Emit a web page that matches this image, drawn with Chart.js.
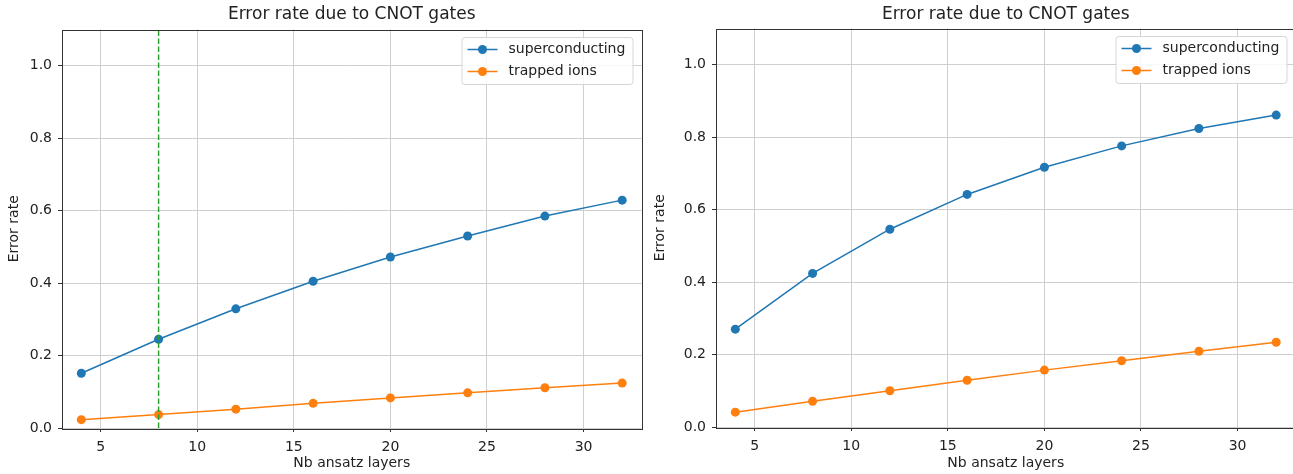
<!DOCTYPE html>
<html>
<head>
<meta charset="utf-8">
<script src="https://cdn.jsdelivr.net/npm/chart.js@4/dist/chart.umd.min.js"></script>
<style>
html, body { margin: 0; padding: 0; background: #fff; overflow: hidden; width: 1293px; height: 474px; }
canvas { position: absolute; top: 0; }
</style>
</head>
<body>
<canvas id="left" width="646" height="474" style="left:0"></canvas>
<canvas id="right" width="654" height="474" style="left:646px"></canvas>
<script>
// Données
const layers = [4, 8, 12, 16, 20, 24, 28, 32];
const superLeft = [0.151, 0.245, 0.329, 0.405, 0.472, 0.530, 0.585, 0.629];
const ionsLeft = [0.023, 0.037, 0.052, 0.068, 0.083, 0.097, 0.111, 0.124];
const superRight = [0.270, 0.424, 0.546, 0.642, 0.717, 0.776, 0.824, 0.861];
const ionsRight = [0.041, 0.071, 0.100, 0.129, 0.157, 0.183, 0.209, 0.234];
const chosenLayers = 8;
const xTicks = [5, 10, 15, 20, 25, 30];
const yTicks = [0, 0.2, 0.4, 0.6, 0.8, 1.0];
const seriesNames = ["superconducting", "trapped ions"];
const chartTitle = "Error rate due to CNOT gates";

const blue = "#1f77b4";
const orange = "#ff7f0e";
const green = "#2ca02c";
const FONT = '"DejaVu Sans", sans-serif';

// Cadre, titre et légende façon matplotlib
const decor = {
    id: "decor",
    afterDraw(chart) {
        const { ctx, chartArea: a } = chart;
        ctx.save();
        ctx.strokeStyle = "#333";
        ctx.lineWidth = 1;
        ctx.strokeRect(Math.round(a.left) + 0.5, Math.round(a.top) + 0.5,
            Math.round(a.right - a.left), Math.round(a.bottom - a.top));

        ctx.fillStyle = "#222";
        ctx.font = "17px " + FONT;
        ctx.textAlign = "center";
        ctx.textBaseline = "middle";
        ctx.fillText(chartTitle, (a.left + a.right) / 2, 15);

        // légende
        const w = 171, h = 47;
        const bx = a.right - 9 - w, by = a.top + 7.5;
        ctx.fillStyle = "rgba(255,255,255,0.85)";
        ctx.strokeStyle = "#d6d6d6";
        ctx.beginPath();
        ctx.roundRect(bx + 0.5, by + 0.5, w, h, 3);
        ctx.fill();
        ctx.stroke();
        [blue, orange].forEach((c, i) => {
            const y = by + 12.5 + i * 22;
            ctx.strokeStyle = c;
            ctx.lineWidth = 1.5;
            ctx.beginPath();
            ctx.moveTo(bx + 6, y);
            ctx.lineTo(bx + 36, y);
            ctx.stroke();
            ctx.fillStyle = c;
            ctx.beginPath();
            ctx.arc(bx + 21, y, 4.5, 0, Math.PI * 2);
            ctx.fill();
            ctx.fillStyle = "#222";
            ctx.font = "14px " + FONT;
            ctx.textAlign = "left";
            ctx.fillText(seriesNames[i], bx + 47, y);
        });
        ctx.restore();
    }
};

function pts(ys) {
    return layers.map((x, i) => ({ x: x, y: ys[i] }));
}

function series(label, ys, color) {
    return {
        label: label,
        data: pts(ys),
        borderColor: color,
        backgroundColor: color,
        borderWidth: 1.5,
        pointRadius: 4.5,
        pointBorderWidth: 0,
        pointHoverRadius: 4.5,
        tension: 0,
        order: 1
    };
}

function makeChart(id, superVals, ionVals, yWidth, padRight, padTop, xHeight, withLine) {
    const datasets = [
        series(seriesNames[0], superVals, blue),
        series(seriesNames[1], ionVals, orange)
    ];
    if (withLine) {
        datasets.push({
            label: "choice",
            data: [{ x: chosenLayers, y: 0 }, { x: chosenLayers, y: 1.1 }],
            borderColor: green,
            borderWidth: 1.5,
            borderDash: [5.5, 2.5],
            pointRadius: 0,
            order: 0
        });
    }
    return new Chart(document.getElementById(id), {
        type: "line",
        data: { datasets: datasets },
        plugins: [decor],
        options: {
            responsive: false,
            animation: false,
            layout: { padding: { left: 0, right: padRight, top: padTop, bottom: 0 } },
            plugins: { legend: { display: false }, tooltip: { enabled: false } },
            scales: {
                x: {
                    type: "linear",
                    min: 3,
                    max: 33,
                    afterBuildTicks: s => { s.ticks = xTicks.map(v => ({ value: v })); },
                    afterFit: s => { s.height = xHeight; },
                    grid: { color: "#cfcfcf", lineWidth: 1, tickLength: 4, tickColor: "#333" },
                    border: { display: false },
                    ticks: { color: "#222", font: { family: FONT, size: 14 }, padding: 7, maxRotation: 0 },
                    title: { display: true, text: "Nb ansatz layers", color: "#222",
                        font: { family: FONT, size: 14 }, padding: { top: 0, bottom: 2 } }
                },
                y: {
                    min: 0,
                    max: 1.1,
                    afterBuildTicks: s => { s.ticks = yTicks.map(v => ({ value: v })); },
                    afterFit: s => { s.width = yWidth; },
                    grid: { color: "#cfcfcf", lineWidth: 1, tickLength: 4, tickColor: "#333" },
                    border: { display: false },
                    ticks: { color: "#222", font: { family: FONT, size: 14 }, padding: 6,
                        callback: v => v.toFixed(1) },
                    title: { display: true, text: "Error rate", color: "#222",
                        font: { family: FONT, size: 14 }, padding: { top: 6, bottom: 0 } }
                }
            }
        }
    });
}

makeChart("left", superLeft, ionsLeft, 62, 4, 29.5, 46, true);
makeChart("right", superRight, ionsRight, 70, 0, 28.5, 47, false);
</script>
</body>
</html>
